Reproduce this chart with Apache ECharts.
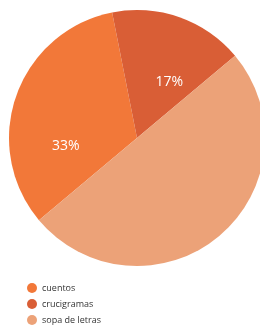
<!DOCTYPE html>
<html>
<head>
<meta charset="utf-8">
<script src="https://cdn.jsdelivr.net/npm/echarts@6/dist/echarts.min.js"></script>
<style>
  html, body { margin: 0; padding: 0; background: #fff; }
  #chart { width: 260px; height: 329px; }
</style>
</head>
<body>
<div id="chart"></div>
<script>
const categories = ['cuentos', 'crucigramas', 'sopa de letras'];
const values = [33, 17, 50];
const colors = ['#f27839', '#d95e36', '#eca278'];
const showLabel = [true, true, false];
// small nudges so labels sit where the original drawing put them
const labelNudge = [[-8, 30], [10, 7], [0, 0]];

const chart = echarts.init(document.getElementById('chart'));

const option = {
  animation: false,
  legend: {
    orient: 'vertical',
    left: 22,
    top: 278,
    height: 60,
    icon: 'circle',
    itemWidth: 10,
    itemHeight: 10,
    itemGap: 6,
    textStyle: {
      fontFamily: 'Open Sans',
      fontSize: 9,
      color: '#333'
    },
    data: categories
  },
  series: [
    {
      type: 'pie',
      center: [137, 138],
      radius: 128,
      startAngle: 220,
      clockwise: true,
      label: {
        position: 'inside',
        formatter: '{c}%',
        color: '#fff',
        fontFamily: 'Open Sans',
        fontSize: 14
      },
      labelLine: { show: false },
      emphasis: { disabled: true },
      data: categories.map((name, i) => ({
        name: name,
        value: values[i],
        itemStyle: { color: colors[i] },
        label: { show: showLabel[i], offset: labelNudge[i] }
      }))
    }
  ]
};

option && chart.setOption(option);
</script>
</body>
</html>
